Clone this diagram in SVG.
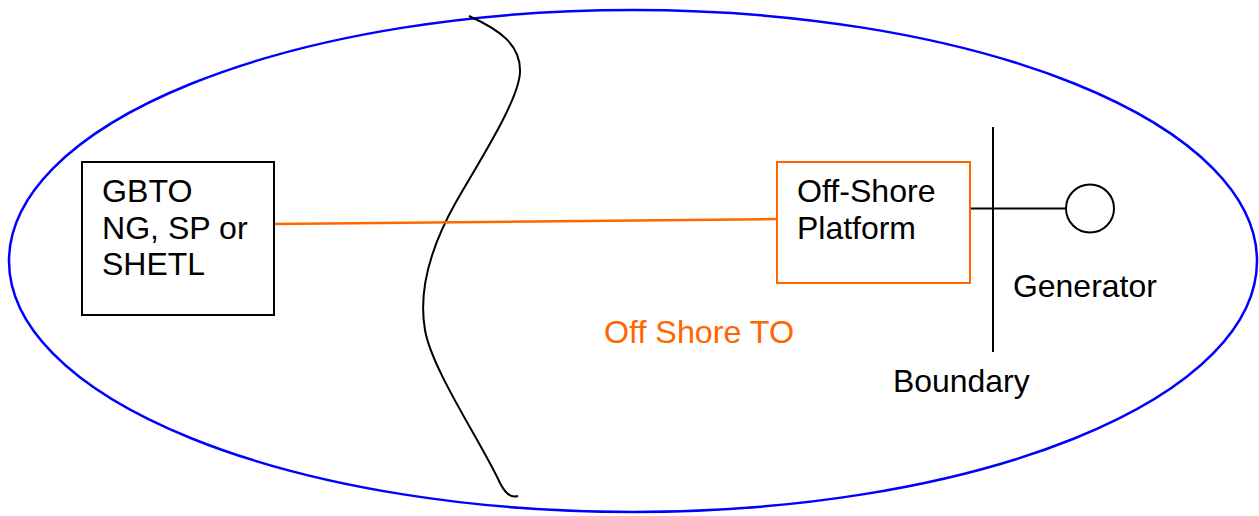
<svg xmlns="http://www.w3.org/2000/svg" width="1259" height="516" viewBox="0 0 1259 516">
<style>
text{font-family:"Liberation Sans",Arial,sans-serif;font-size:30.5px;fill:#000}
.or{fill:#FF6600}
.box{fill:none;stroke:#000;stroke-width:2}
.obox{fill:none;stroke:#FF6600;stroke-width:2}
.ln{fill:none;stroke:#000;stroke-width:2}
</style>
<rect width="1259" height="516" fill="#fff"/>
<g id="boundary-ellipse"><ellipse cx="633" cy="261" rx="624" ry="251" fill="none" stroke="#0000FF" stroke-width="2.5"/></g>
<g id="shore-curve"><path class="ln" d="M469,16 C500,30 521,45 520,72 C519,100 480,160 456,202 C430,248 418,290 425,330 C432,370 480,440 500,483 C506,495 512,498 518,496"/></g>
<g id="connectors">
<line x1="274" y1="224" x2="777" y2="219" stroke="#FF6600" stroke-width="2.5"/>
<line class="ln" x1="970" y1="208.5" x2="1066" y2="208.5"/>
<line class="ln" x1="993" y1="127" x2="993" y2="352"/>
</g>
<g id="gbto"><rect class="box" x="82" y="162" width="192" height="153"/>
<text x="102" y="202" textLength="90.5" lengthAdjust="spacingAndGlyphs">GBTO</text><text x="102" y="238.5" textLength="145.6" lengthAdjust="spacingAndGlyphs">NG, SP or</text><text x="102" y="275" textLength="103" lengthAdjust="spacingAndGlyphs">SHETL</text></g>
<g id="platform"><rect class="obox" x="777" y="162" width="193" height="121"/>
<text x="797" y="202" textLength="138.5" lengthAdjust="spacingAndGlyphs">Off-Shore</text><text x="797" y="238.5" textLength="119" lengthAdjust="spacingAndGlyphs">Platform</text></g>
<g id="generator"><circle cx="1090" cy="208.5" r="24" fill="none" stroke="#000" stroke-width="2"/>
<text x="1013" y="296.5" textLength="143.8" lengthAdjust="spacingAndGlyphs">Generator</text></g>
<g id="boundary-label"><text x="893" y="392" textLength="136.7" lengthAdjust="spacingAndGlyphs">Boundary</text></g>
<g id="offshore-to"><text class="or" x="604" y="343" textLength="190" lengthAdjust="spacingAndGlyphs">Off Shore TO</text></g>
</svg>
